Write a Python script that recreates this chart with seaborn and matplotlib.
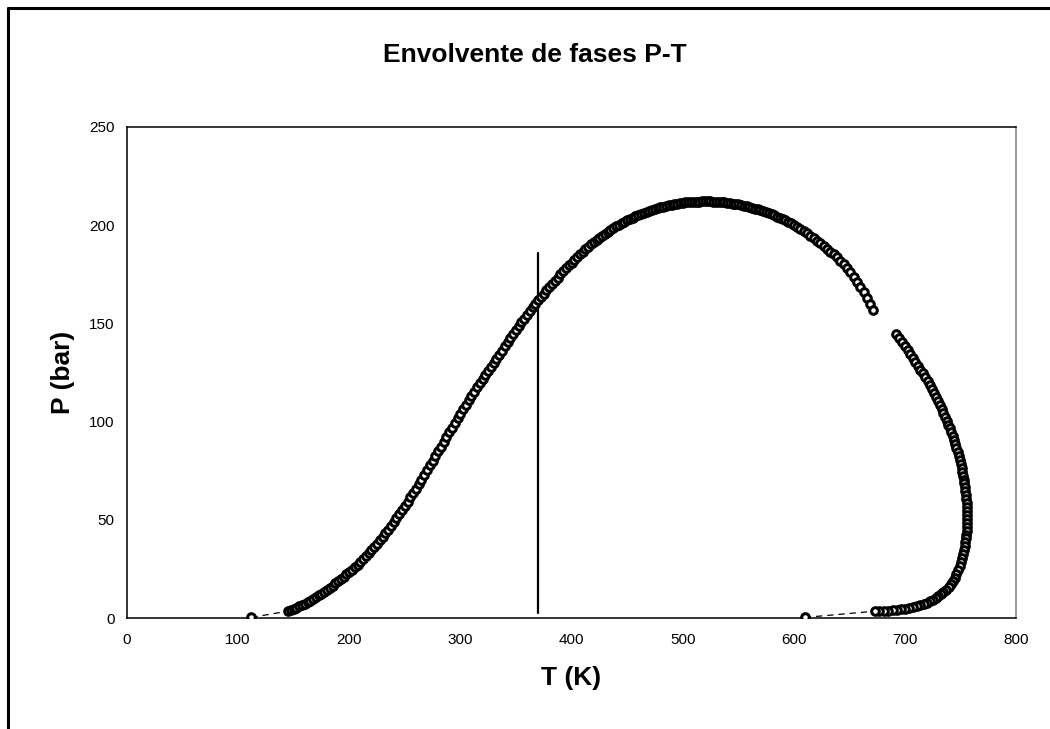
import matplotlib
matplotlib.use("Agg")
import matplotlib.pyplot as plt
import seaborn as sns
import pandas as pd
from matplotlib.lines import Line2D

# ---------------- data ----------------
# bubble-side branch (left) + upper part up to the gap
T_bub = [145, 147.5, 150, 152.5, 155, 157.5, 160, 162.5, 165, 167.5, 170, 172.5, 175, 177.5,
         180, 182.5, 185, 187.5, 190, 192.5, 195, 197.5, 200, 202.5, 205, 207.5, 210, 212.5,
         215, 217.5, 220, 222.5, 225, 227.5, 230, 232.5, 235, 237.5, 240, 242.5, 245, 247.5,
         250, 252.5, 255, 257.5, 260, 262.5, 265, 267.5, 270, 272.5, 275, 277.5, 280, 282.5,
         285, 287.5, 290, 292.5, 295, 297.5, 300, 302.5, 305, 307.5, 310, 312.5, 315, 317.5,
         320, 322.5, 325, 327.5, 330, 332.5, 335, 337.5, 340, 342.5, 345, 347.5, 350, 352.5,
         355, 357.5, 360, 362.5, 365, 367.5, 370, 372.5, 375, 377.5, 380, 382.5, 385, 387.5,
         390, 392.5, 395, 397.5, 400, 402.5, 405, 407.5, 410, 412.5, 415, 417.5, 420, 422.5,
         425, 427.5, 430, 432.5, 435, 437.5, 440, 442.5, 445, 447.5, 450, 452.5, 455, 457.5,
         460, 462.5, 465, 467.5, 470, 472.5, 475, 477.5, 480, 482.5, 485, 487.5, 490, 492.5,
         495, 497.5, 500, 502.5, 505, 507.5, 510, 512.5, 515, 517.5, 520,
         522.5, 525, 527.5, 530, 532.5, 535, 537.5, 540, 542.5, 545, 547.5, 550, 552.5, 555,
         557.5, 560, 562.5, 565, 567.5, 570, 572.5, 575, 577.5, 580, 582.5, 585, 587.5, 590,
         592.5, 595, 597.5, 600, 603, 606, 609, 612, 615, 618, 621, 624, 627, 630, 633, 636,
         639, 642, 645, 648, 651, 654, 657, 660, 663, 666, 669, 671.5]
P_bub = [3.5, 4.0, 4.6, 5.2, 5.9, 6.6, 7.3, 8.1, 8.9, 9.7, 10.6, 11.5, 12.4, 13.4,
         14.4, 15.4, 16.5, 17.6, 18.7, 19.8, 21.0, 22.2, 23.4, 24.6, 25.9, 27.2, 28.6, 30.0,
         31.5, 33.0, 34.6, 36.2, 37.9, 39.6, 41.4, 43.2, 45.0, 46.9, 48.8, 50.8, 52.8, 54.9,
         57.0, 59.2, 61.4, 63.6, 65.9, 68.2, 70.5, 72.9, 75.3, 77.7, 80.1, 82.5, 84.9, 87.3,
         89.7, 92.1, 94.5, 96.9, 99.3, 101.6, 103.9, 106.2, 108.5, 110.8, 113.0, 115.2, 117.4, 119.5,
         121.6, 123.7, 125.8, 127.8, 129.9, 132.0, 134.1, 136.2, 138.3, 140.4, 142.5, 144.5, 146.5, 148.5,
         150.5, 152.4, 154.3, 156.2, 158.1, 160.0, 161.8, 163.5, 165.2, 166.9, 168.5, 170.1, 171.7, 173.3,
         174.9, 176.5, 178.0, 179.5, 181.0, 182.4, 183.8, 185.2, 186.5, 187.8, 189.0, 190.2, 191.4, 192.5,
         193.6, 194.7, 195.7, 196.7, 197.6, 198.5, 199.4, 200.2, 201.0, 201.8, 202.5, 203.2, 203.9, 204.5,
         205.1, 205.7, 206.3, 206.8, 207.3, 207.8, 208.3, 208.7, 209.1, 209.5, 209.8, 210.1, 210.4, 210.7,
         211.0, 211.2, 211.4, 211.6, 211.7, 211.8, 211.9, 212.0, 212.0, 212.1, 212.1,
         212.1, 212.1, 212.0, 212.0, 211.8, 211.7, 211.6, 211.4, 211.2, 211.0, 210.8, 210.6, 210.3, 210.0,
         209.7, 209.3, 208.9, 208.5, 208.1, 207.7, 207.2, 206.7, 206.2, 205.6, 205.0, 204.4, 203.8, 203.1,
         202.4, 201.7, 200.9, 200.1, 199.1, 198.0, 196.9, 195.8, 194.6, 193.4, 192.2, 190.9, 189.5, 188.1, 186.6, 185.1,
         183.6, 182.0, 180.0, 178.0, 176.0, 173.5, 171.0, 168.5, 166.0, 163.0, 160.0, 157.0]

# dew-side branch (right), after the gap
P_dew = [144.5, 142.5, 140.5, 138.5, 136.5, 134.5, 132.5, 130.5, 128.5, 126.5, 124.5, 122.5,
         120.5, 118.5, 116.5, 114.5, 112.5, 110.5, 108.5, 106.5, 104.5, 102.5, 100.5, 98.5,
         96.5, 94.5, 92.5, 90.5, 88.5, 86.5, 84.5, 82.5, 80.5, 78.5, 76.5, 74.5, 72.5, 70.5,
         68.5, 66.5, 64.5, 62.5, 60.5, 58.5, 56.5, 54.5, 52.5, 50.5, 48.5, 46.5, 44.5, 42.5,
         40.5, 38.5, 36.5, 34.5, 32.5, 30.5, 28.5, 26.5, 24.5, 22.5, 20.5, 19.0, 17.5, 16.0,
         14.5, 13.0, 12.0, 11.0, 10.0, 9.2, 8.5, 7.8, 7.2, 6.6, 6.1, 5.6, 5.2, 4.8, 4.5, 4.2,
         3.95, 3.75, 3.6, 3.5, 3.45]
T_dew = [692.0, 694.7, 697.3, 699.8, 702.4, 704.8, 707.2, 709.5, 711.8, 714.0, 716.2, 718.3,
         720.4, 722.4, 724.3, 726.2, 728.0, 729.8, 731.5, 733.1, 734.7, 736.2, 737.7, 739.1,
         740.5, 741.8, 743.1, 744.2, 745.4, 746.4, 747.5, 748.4, 749.3, 750.2, 751.0, 751.7, 752.4, 753.0,
         753.5, 754.0, 754.5, 754.9, 755.2, 755.5, 755.7, 755.9, 756.0, 756.0, 755.9, 755.8, 755.6, 755.3,
         754.9, 754.4, 753.8, 753.1, 752.3, 751.4, 750.4, 749.2, 747.9, 746.4, 744.7, 743.2, 741.4, 739.4,
         737.1, 734.5, 732.5, 730.2, 727.6, 725.2, 722.7, 719.9, 717.0, 713.8, 710.6, 707.0, 703.6, 699.8, 696.5, 692.8,
         689.0, 685.0, 681.0, 677.0, 673.0]

# end points on the T axis (joined to the branches by dashed lines)
T_end = [112, 610]
P_end = [0.3, 0.3]

# vertical line (operating temperature)
T_vline = [370, 370]
P_vline = [2.5, 186]

title = "Envolvente de fases P-T"
xlabel = "T (K)"
ylabel = "P (bar)"
xticks = [0, 100, 200, 300, 400, 500, 600, 700, 800]
yticks = [0, 50, 100, 150, 200, 250]

# ---------------- figure ----------------
sns.set_theme(style="white")
plt.rcParams["font.family"] = ["Liberation Sans", "DejaVu Sans"]
plt.rcParams["text.color"] = "black"
plt.rcParams["axes.labelcolor"] = "black"

fig = plt.figure(figsize=(10.5, 7.29), dpi=100)
fig.patch.set_facecolor("white")
ax = fig.add_axes([127 / 1050, 1 - 618 / 729, (1016 - 127) / 1050, (618 - 127) / 729])
ax.set_facecolor("white")

# dashed connectors
conn_left = pd.DataFrame({"T": [T_end[0], T_bub[0]], "P": [P_end[0], P_bub[0]]})
conn_right = pd.DataFrame({"T": [T_end[1], T_dew[-1]], "P": [P_end[1], P_dew[-1]]})
for d in (conn_left, conn_right):
    sns.lineplot(data=d, x="T", y="P", sort=False, estimator=None, ax=ax,
                 color="black", linewidth=0.9, linestyle=(0, (5, 4)))

# vertical line
sns.lineplot(x=T_vline, y=P_vline, sort=False, estimator=None, ax=ax,
             color="black", linewidth=1.6)

mk = dict(marker="o", s=30, color="white", edgecolor="black", linewidth=2.2, ax=ax, zorder=3)
sns.scatterplot(x=T_bub, y=P_bub, **mk)
sns.scatterplot(x=T_dew, y=P_dew, **mk)
sns.scatterplot(x=T_end, y=P_end, **mk)

ax.set_xlim(0, 800)
ax.set_ylim(0, 250)
ax.set_xticks(xticks)
ax.set_yticks(yticks)
ax.tick_params(axis="both", direction="out", length=4, width=1, color="black",
               labelsize=11, pad=5, labelcolor="black")
ax.tick_params(axis="x", pad=7)

for side in ("left", "bottom", "top"):
    ax.spines[side].set_visible(True)
    ax.spines[side].set_color("black")
    ax.spines[side].set_linewidth(1.1)
ax.spines["right"].set_visible(True)
ax.spines["right"].set_color("#808080")
ax.spines["right"].set_linewidth(1.1)

ax.set_xlabel(xlabel, fontsize=19, fontweight="bold", color="black")
ax.set_ylabel(ylabel, fontsize=19, fontweight="bold", color="black")
ax.xaxis.label.set_va("center")
ax.xaxis.set_label_coords(0.5, -(678 - 618) / 491)
ax.yaxis.label.set_va("center")
ax.yaxis.label.set_ha("center")
ax.yaxis.set_label_coords((63 - 127) / 889, 0.5)

fig.text(535 / 1050, 1 - 55 / 729, title, fontsize=19, fontweight="bold",
         ha="center", va="center", color="black")

# outer chart-area border (cropped on right and bottom)
bx, by = 8 / 1050, 1 - 7.5 / 729
fig.add_artist(Line2D([bx, 1.0], [by, by], transform=fig.transFigure, color="black", linewidth=2.2))
fig.add_artist(Line2D([bx, bx], [by, 0.0], transform=fig.transFigure, color="black", linewidth=2.2))

fig.savefig("out.png", dpi=100)
